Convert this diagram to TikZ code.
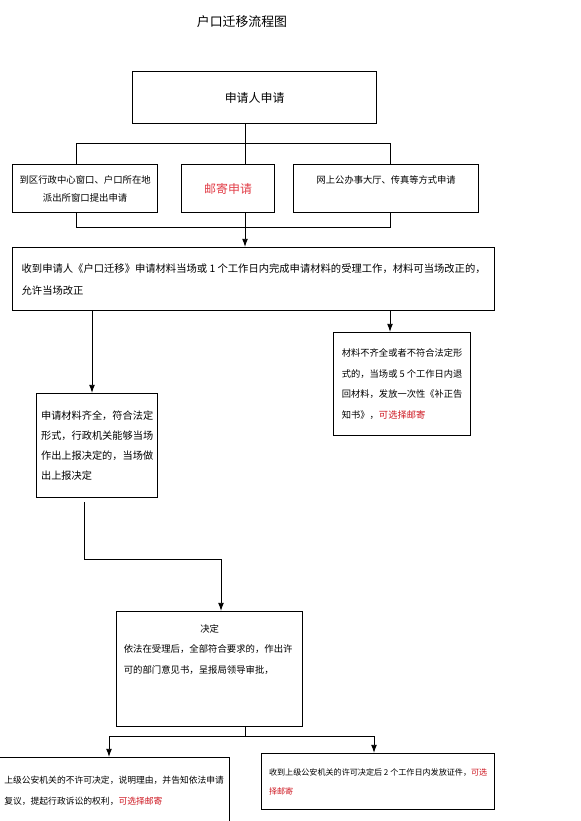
\documentclass[tikz,border=0pt]{standalone}
\usepackage{fontspec}
\setmainfont{Noto Sans CJK SC}
\usepackage{tikz}
\usetikzlibrary{positioning, arrows.meta}
\usepackage{xcolor}
\definecolor{mailred}{RGB}{225,60,70}
\definecolor{optred}{RGB}{205,20,30}
\newcommand{\opt}[1]{{\color{optred}#1}}

\begin{document}
\begin{tikzpicture}[
        x=0.03cm, y=-0.03cm,
        box/.style={rectangle, draw, line width=1.1pt, anchor=north west,
                    inner xsep=2pt, inner ysep=2pt},
        boxsize/.style 2 args={minimum width=#1*0.03cm, minimum height=#2*0.03cm},
        title/.style={font=\fontsize{11}{13}\selectfont},
        arrow/.style={-{Latex[length=7pt,width=5pt]}, line width=0.8pt},
        line/.style={line width=0.8pt}
    ]
    \useasboundingbox (0,0) rectangle (580,821);

    %% title and applicant
    \node[title] (title) at (242,22) {户口迁移流程图};
    \node[box, boxsize={244}{52}, font=\fontsize{10.2}{12}\selectfont]
          (applicant) at (132,71) {申请人申请};

    %% three ways to apply
    \node[box, boxsize={145}{48}, align=center, font=\fontsize{8}{15.3}\selectfont]
          (inperson) at (12,164) {到区行政中心窗口、户口所在地\\派出所窗口提出申请};
    \node[box, boxsize={93}{48}, text=mailred, font=\fontsize{10.2}{12}\selectfont]
          (mail) at (181,164) {\raisebox{-3pt}{邮寄申请}};
    \node[box, boxsize={185}{48}, align=center, font=\fontsize{7.9}{15}\selectfont]
          (online) at (293,164) {网上公办事大厅、传真等方式申请\\ \mbox{}};

    \coordinate (split)  at (245,143);
    \coordinate (splitL) at (76,143);
    \coordinate (splitR) at (390,143);
    \coordinate (joinL)  at (76,227);
    \coordinate (joinR)  at (390,227);
    \draw[line] (applicant.south -| split) -- (mail.north -| split);
    \draw[line] (inperson.north -| splitL) -- (splitL) -- (splitR) -- (online.north -| splitR);
    \draw[line] (inperson.south -| joinL) -- (joinL) -- (joinR) -- (online.south -| joinR);

    %% acceptance
    \node[box, boxsize={482}{63}, align=left, font=\fontsize{8.8}{18.7}\selectfont]
          (accept) at (12,247)
          {收到申请人《户口迁移》申请材料当场或 1 个工作日内完成申请材料的受理工作，材料可当场改正的，\\允许当场改正};
    \draw[arrow] (mail.south -| split) -- (accept.north -| split);

    \node[box, boxsize={121}{104}, align=left, font=\fontsize{8.7}{17.3}\selectfont]
          (complete) at (36,393)
          {申请材料齐全，符合法定\\形式，行政机关能够当场\\作出上报决定的，当场做\\出上报决定};
    \node[box, boxsize={137}{103}, align=left, font=\fontsize{7.9}{17.6}\selectfont]
          (incomplete) at (333,332)
          {材料不齐全或者不符合法定形\\式的，当场或 5 个工作日内退\\回材料，发放一次性《补正告\\知书》，\opt{可选择邮寄}};
    \coordinate (accL) at (92,0);
    \coordinate (accR) at (390,0);
    \draw[arrow] (accept.south -| accL) -- (complete.north -| accL);
    \draw[arrow] (accept.south -| accR) -- (incomplete.north -| accR);

    %% decision
    \node[box, boxsize={186}{115}, align=left, text width=5.15cm,
          font=\fontsize{8}{17.5}\selectfont]
          (decide) at (116,611)
          {\makebox[\hsize]{决定}\\依法在受理后，全部符合要求的，作出许\\可的部门意见书，呈报局领导审批，\\ \mbox{}\\ \mbox{}};
    \coordinate (turnTop) at (84,502);
    \coordinate (turnA)   at (84,559);
    \coordinate (turnB)   at (221,559);
    \draw[arrow] (turnTop) -- (turnA) -- (turnB) -- (decide.north -| turnB);

    %% results
    \node[box, boxsize={231}{66}, align=left, font=\fontsize{7.5}{17.9}\selectfont]
          (deny) at (-2,757)
          {上级公安机关的不许可决定，说明理由，并告知依法申请\\复议，提起行政诉讼的权利，\opt{可选择邮寄}};
    \node[box, boxsize={233}{56}, align=left, font=\fontsize{6.9}{16}\selectfont]
          (permit) at (261,753)
          {收到上级公安机关的许可决定后 2 个工作日内发放证件，\opt{可选}\\\opt{择邮寄}};
    \coordinate (fork)  at (245,736);
    \coordinate (forkL) at (109,736);
    \coordinate (forkR) at (374,736);
    \draw[arrow] (decide.south -| fork) -- (fork) -| (deny.north -| forkL);
    \draw[arrow] (fork) -| (permit.north -| forkR);

\end{tikzpicture}
\end{document}
